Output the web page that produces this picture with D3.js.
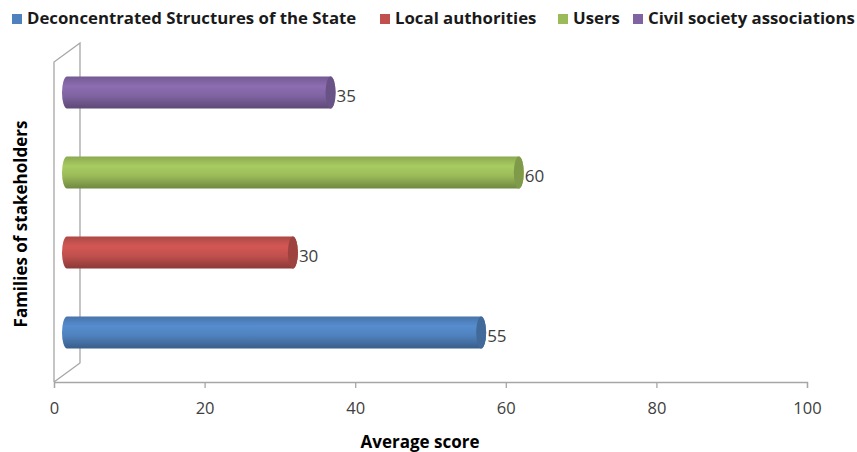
<!DOCTYPE html>
<html><head><meta charset="utf-8">
<script src="https://cdn.jsdelivr.net/npm/d3@7/dist/d3.min.js"></script>
<style>body{margin:0;background:#fff}svg{display:block}</style>
</head><body><svg id="c" width="857" height="452"></svg>
<script>
const categories = ["Deconcentrated Structures of the State","Local authorities","Users","Civil society associations"];
const values = [55,30,60,35];
const colors = ["#4F81BD","#C0504D","#9BBB59","#8064A2"];
const xTicks = [0,20,40,60,80,100];
const xTitle = "Average score";
const yTitle = "Families of stakeholders";

const svg = d3.select("#c");
const font = "'Open Sans', 'Liberation Sans', sans-serif";
const x = d3.scaleLinear().domain([0,100]).range([54,807]);
const y = d3.scaleBand().domain(categories.slice().reverse()).range([62,382]);
const dx = 26, dy = 19; // depth offset of back wall
const bdx = 13, bdy = 9.5; // bar depth offset

const defs = svg.append("defs");
colors.forEach((c,i)=>{
  const g = defs.append("linearGradient").attr("id","g"+i).attr("x1",0).attr("y1",0).attr("x2",0).attr("y2",1);
  const col = d3.color(c);
  g.append("stop").attr("offset","0%").attr("stop-color", col.darker(0.3));
  g.append("stop").attr("offset","30%").attr("stop-color", col.brighter(0.25));
  g.append("stop").attr("offset","60%").attr("stop-color", c);
  g.append("stop").attr("offset","100%").attr("stop-color", col.darker(0.9));
});

// walls
const wall = svg.append("g").attr("stroke","#a6a6a6").attr("fill","none").attr("stroke-width",1.3);
wall.append("path").attr("d", `M${x(0)},${y.range()[1]} L${x(0)},${y.range()[0]} L${x(0)+dx},${y.range()[0]-dy} L${x(0)+dx},${y.range()[1]-dy} L${x(0)},${y.range()[1]}`);

// x axis
const ax = svg.append("g").attr("transform",`translate(0,${y.range()[1]})`)
  .call(d3.axisBottom(x).tickValues(xTicks).tickSize(6).tickPadding(14));
ax.select(".domain").attr("stroke","#a6a6a6").attr("stroke-width",1.3);
ax.selectAll(".tick line").attr("stroke","#a6a6a6").attr("stroke-width",1.3);
ax.selectAll(".tick text").attr("fill","#404040").style("font-family",font).style("font-size","16.5px");

// bars
const h = 32, rx = 5;
categories.forEach((cat,i)=>{
  const cy = y(cat) + y.bandwidth()/2 - bdy;
  const x0 = x(0)+bdx, x1 = x(values[i])+bdx;
  const top = cy - h/2, bot = cy + h/2;
  svg.append("path")
    .attr("d", `M${x1},${top} L${x0},${top} A${rx},${h/2} 0 0 0 ${x0},${bot} L${x1},${bot} A${rx},${h/2} 0 0 0 ${x1},${top} Z`)
    .attr("fill", `url(#g${i})`);
  svg.append("ellipse").attr("cx",x1).attr("cy",cy).attr("rx",rx).attr("ry",h/2)
    .attr("fill", d3.color(colors[i]).darker(0.55));
  svg.append("text").attr("x", x1+rx+1).attr("y", cy+5).attr("dominant-baseline","middle")
    .attr("fill","#404040").style("font-family",font).style("font-size","17px").text(values[i]);
});

// titles
svg.append("text").attr("x",420).attr("y",443).attr("text-anchor","middle").attr("dominant-baseline","middle")
  .style("font-family",font).style("font-weight","bold").style("font-size","17px").attr("fill","#000").text(xTitle);
svg.append("text").attr("transform","translate(22,224) rotate(-90)").attr("text-anchor","middle").attr("dominant-baseline","middle")
  .style("font-family",font).style("font-weight","bold").style("font-size","17px").attr("fill","#000").text(yTitle);

// legend
const legX = [12, 380, 558, 633];
const lg = svg.append("g");
categories.forEach((cat,i)=>{
  lg.append("rect").attr("x",legX[i]).attr("y",14).attr("width",10).attr("height",10).attr("fill",colors[i]);
  lg.append("text").attr("x",legX[i]+15).attr("y",19).attr("dominant-baseline","middle")
    .style("font-family",font).style("font-weight","bold").style("font-size","16.8px").attr("fill","#1a1a1a").text(cat);
});
</script></body></html>
